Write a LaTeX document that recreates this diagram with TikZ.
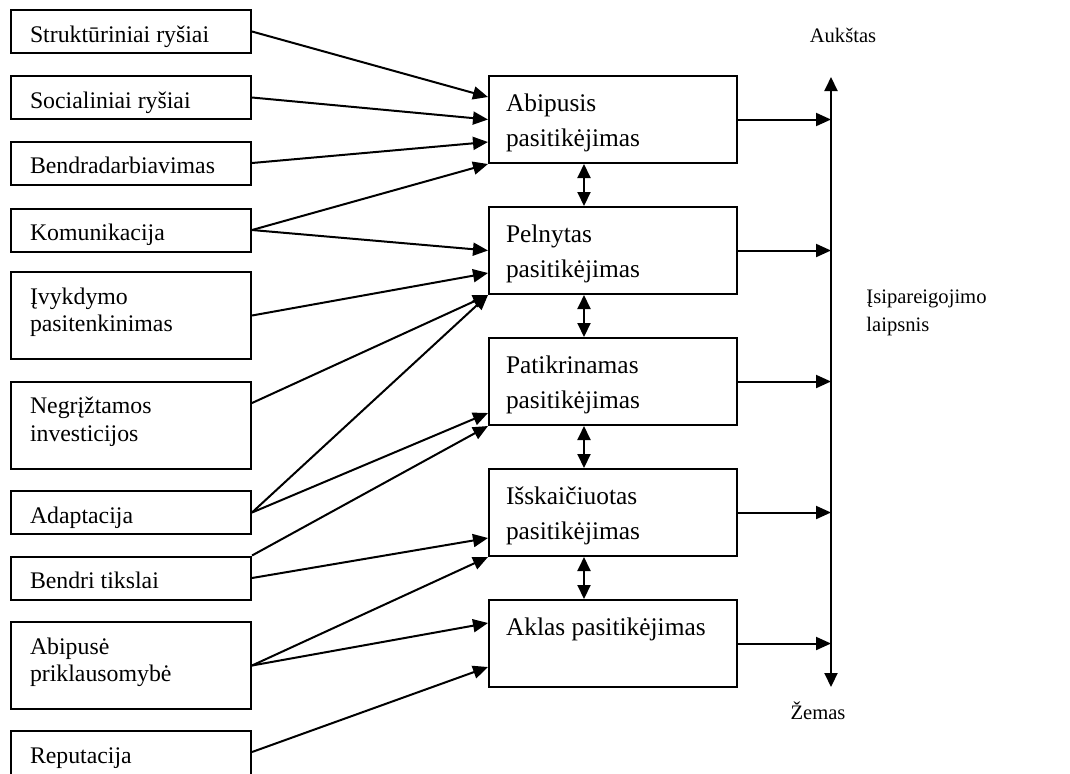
\documentclass[tikz,border=0pt]{standalone}
\usepackage{fontspec}
\setmainfont{Liberation Serif}
\usetikzlibrary{arrows.meta,positioning}
\tikzstyle{factor} = [draw,line width=1pt,text width=101pt,inner xsep=9.5pt,inner ysep=4pt,text height=12pt,text depth=1.5pt,align=flush left,font=\fontsize{11.9}{13.8}\selectfont]
\tikzstyle{factor2} = [factor,text depth=23.5pt]
\tikzstyle{level} = [draw,line width=1pt,text width=107pt,inner xsep=8.5pt,inner ysep=4pt,text height=13.5pt,text depth=22pt,align=flush left,font=\fontsize{12.7}{17.8}\selectfont]
\tikzstyle{scale label} = [font=\fontsize{10.3}{14}\selectfont]
\tikzstyle{edge} = [draw,line width=1pt,-{Triangle[length=7.5pt,width=6.5pt]}]
\tikzstyle{link} = [draw,line width=1pt,{Triangle[length=7pt,width=6.5pt]}-{Triangle[length=7pt,width=6.5pt]}]

\begin{document}
\begin{tikzpicture}[x=0.5pt,y=-0.5pt]
   \useasboundingbox (0,0) rectangle (1070,773);

   % factors
   \node[factor]  (strukt)   at (131,31.5)  {Struktūriniai ryšiai};
   \node[factor]  (social)   at (131,97.5)  {Socialiniai ryšiai};
   \node[factor]  (bendrad)  at (131,163)   {Bendradarbiavimas};
   \node[factor]  (komun)    at (131,230)   {Komunikacija};
   \node[factor2] (ivykd)    at (131,315.5) {Įvykdymo\\pasitenkinimas};
   \node[factor2] (negrizt)  at (131,425)   {Negrįžtamos\\investicijos};
   \node[factor]  (adapt)    at (131,512.5) {Adaptacija};
   \node[factor]  (bendri)   at (131,578)   {Bendri tikslai};
   \node[factor2] (priklaus) at (131,665.5) {Abipusė\\priklausomybė};
   \node[factor,text depth=6pt] (reput) at (131,757) {Reputacija};

   % trust levels
   \node[level] (abipusis) at (613,119.5) {Abipusis\\pasitikėjimas};
   \node[level] (pelnytas) at (613,250.5) {Pelnytas\\pasitikėjimas};
   \node[level] (patikr)   at (613,381.5) {Patikrinamas\\pasitikėjimas};
   \node[level] (isskaic)  at (613,512.5) {Išskaičiuotas\\pasitikėjimas};
   \node[level] (aklas)    at (613,643.5) {Aklas pasitikėjimas};

   % commitment scale
   \coordinate (high) at (831,77);
   \coordinate (low)  at (831,687);
   \node[scale label,anchor=base] (aukstas) at (843,42) {Aukštas};
   \node[scale label,anchor=base] (zemas)   at (818,719) {Žemas};
   \node[scale label,anchor=west,align=left,inner sep=0pt] (laipsnis) at (866,313) {Įsipareigojimo\\laipsnis};

   \path[edge] (strukt.east)  -- ([yshift=11.25pt]abipusis.west);
   \path[edge] (social.east)  -- (abipusis.west);
   \path[edge] (bendrad.east) -- ([yshift=-11.25pt]abipusis.west);
   \path[edge] (komun.east)   -- (abipusis.south west);
   \path[edge] (komun.east)   -- (pelnytas.west);
   \path[edge] (ivykd.east)   -- ([yshift=-11.25pt]pelnytas.west);
   \path[edge] ([yshift=11pt]negrizt.east) -- (pelnytas.south west);
   \path[edge] (adapt.east)   -- (pelnytas.south west);
   \path[edge] (adapt.east)   -- ([yshift=-15.75pt]patikr.west);
   \path[edge] (bendri.north east) -- (patikr.south west);
   \path[edge] (bendri.east)  -- ([yshift=-12.75pt]isskaic.west);
   \path[edge] (priklaus.east) -- (isskaic.south west);
   \path[edge] (priklaus.east) -- ([yshift=10.25pt]aklas.west);
   \path[edge] ([yshift=2.5pt]reput.east) -- ([yshift=-11.75pt]aklas.west);

   \foreach \a/\b in {abipusis/pelnytas,pelnytas/patikr,patikr/isskaic,isskaic/aklas}
      \path[link] ([xshift=-14.5pt]\a.south) -- ([xshift=-14.5pt]\b.north);

   \path[link] (low) -- (high);
   \foreach \n in {abipusis,pelnytas,patikr,isskaic,aklas}
      \path[edge] (\n.east) -- (\n.east -| high);
\end{tikzpicture}
\end{document}
